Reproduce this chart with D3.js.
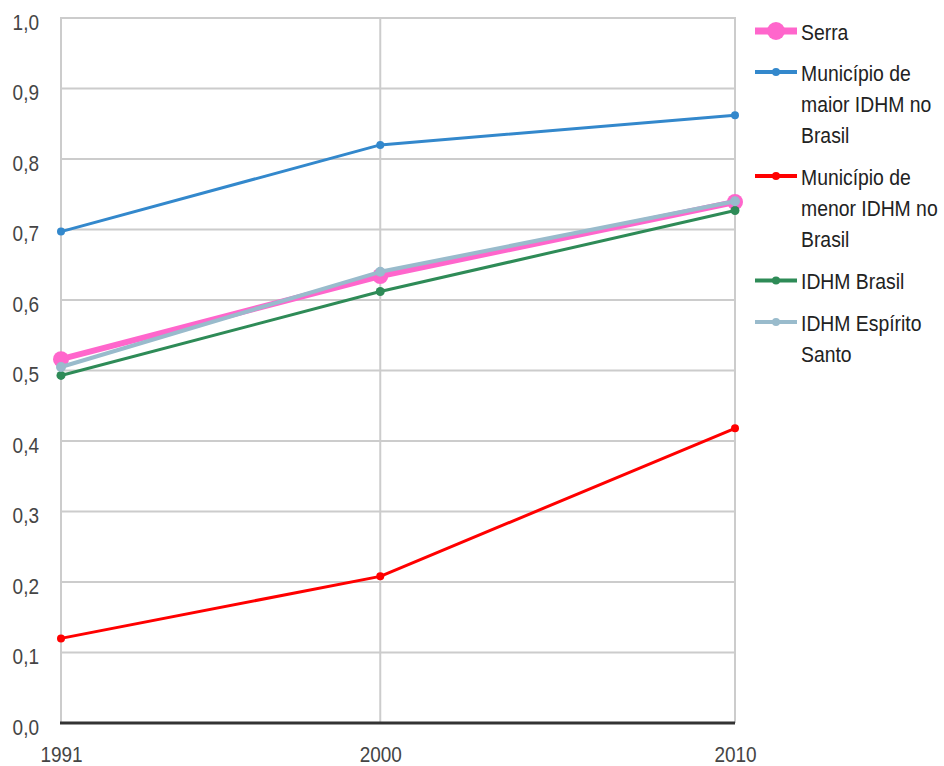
<!DOCTYPE html>
<html><head><meta charset="utf-8">
<script src="https://cdn.jsdelivr.net/npm/d3@7"></script>
<style>
html,body{margin:0;padding:0;background:#fff;}
svg{display:block;font-family:"Liberation Sans",Arial,sans-serif;}
</style></head>
<body>
<svg id="chart" width="944" height="766"></svg>
<script>
const years = [1991, 2000, 2010];
const yTicks = [0,0.1,0.2,0.3,0.4,0.5,0.6,0.7,0.8,0.9,1.0];
const seriesNames = ["Serra", "Município de maior IDHM no Brasil", "Município de menor IDHM no Brasil", "IDHM Brasil", "IDHM Espírito Santo"];
const legendLines = [["Serra"], ["Município de","maior IDHM no","Brasil"], ["Município de","menor IDHM no","Brasil"], ["IDHM Brasil"], ["IDHM Espírito","Santo"]];
const serra = [0.516, 0.634, 0.739];
const maior = [0.697, 0.820, 0.862];
const menor = [0.120, 0.208, 0.418];
const brasil = [0.493, 0.612, 0.727];
const espirito = [0.505, 0.640, 0.740];
const colors = ["#ff66cc", "#3388cc", "#ff0000", "#2e8b57", "#99bbcc"];

const allValues = [serra, maior, menor, brasil, espirito];
const styles = [
  {w:6, r:8, lw:7, lr:9},
  {w:3, r:4, lw:4, lr:4},
  {w:3, r:4, lw:4, lr:4},
  {w:3, r:4.5, lw:4, lr:4},
  {w:4, r:5, lw:4, lr:4}
];
const SY = 1.2;     // vertical stretch of glyphs
const FS = 19;

const svg = d3.select("#chart");
const x = d3.scaleLinear().domain([1991, 2010]).range([61, 735]);
const y = d3.scaleLinear().domain([0, 1]).range([723, 18]);

const grid = svg.append("g");
grid.selectAll("line.h").data(yTicks.slice(1)).join("line")
  .attr("x1", x(1991)).attr("x2", x(2010))
  .attr("y1", d=>y(d)).attr("y2", d=>y(d))
  .attr("stroke", "#cccccc").attr("stroke-width", 2);
grid.selectAll("line.v").data(years).join("line")
  .attr("x1", d=>x(d)).attr("x2", d=>x(d))
  .attr("y1", y(1)-1).attr("y2", y(0))
  .attr("stroke", "#cccccc").attr("stroke-width", 2);

// y axis labels
const yAxis = d3.axisLeft(y).tickValues(yTicks).tickSize(0).tickPadding(0)
  .tickFormat(d => d3.format(".1f")(d).replace(".", ","));
const ga = svg.append("g").attr("transform", "translate(39,0)").call(yAxis);
ga.select(".domain").remove();
ga.selectAll("text").attr("font-size", FS).attr("fill", "#454545").attr("font-family", null)
  .attr("dy", null).attr("x", 0).attr("y", 11/SY).attr("transform", `scale(1,${SY})`);

// x axis
const xAxis = d3.axisBottom(x).tickValues(years).tickSize(0).tickPadding(0).tickFormat(d3.format("d"));
const gx = svg.append("g").attr("transform", `translate(0,${y(0)})`).call(xAxis);
gx.select(".domain").remove();
gx.selectAll("text").attr("font-size", FS).attr("fill", "#454545").attr("font-family", null)
  .attr("dy", null).attr("y", 39.5/SY).attr("transform", `scale(1,${SY})`);

svg.append("line").attr("x1", x(1991)-1).attr("x2", x(2010)).attr("y1", y(0)).attr("y2", y(0))
  .attr("stroke", "#333").attr("stroke-width", 3);

const line = d3.line().x((d,i)=>x(years[i])).y(d=>y(d));

allValues.forEach((vals, k) => {
  const g = svg.append("g");
  g.append("path").attr("d", line(vals)).attr("fill", "none")
    .attr("stroke", colors[k]).attr("stroke-width", styles[k].w).attr("stroke-linejoin", "round");
  g.selectAll("circle").data(vals).join("circle")
    .attr("cx", (d,i)=>x(years[i])).attr("cy", d=>y(d)).attr("r", styles[k].r)
    .attr("fill", colors[k]);
});

// legend
const lg = svg.append("g");
const itemY = [31, 72, 176, 280.5, 322];
legendLines.forEach((lines, k) => {
  const cy = itemY[k];
  lg.append("line").attr("x1", 755).attr("x2", 797).attr("y1", cy).attr("y2", cy)
    .attr("stroke", colors[k]).attr("stroke-width", styles[k].lw);
  lg.append("circle").attr("cx", 776).attr("cy", cy).attr("r", styles[k].lr).attr("fill", colors[k]);
  lines.forEach((t, j) => {
    const base = cy + 8.5 + j*31;
    lg.append("text").attr("transform", `translate(801,${base}) scale(1.02,${SY})`)
      .attr("font-size", FS).attr("fill", "#222").text(t);
  });
});
</script>
</body></html>
